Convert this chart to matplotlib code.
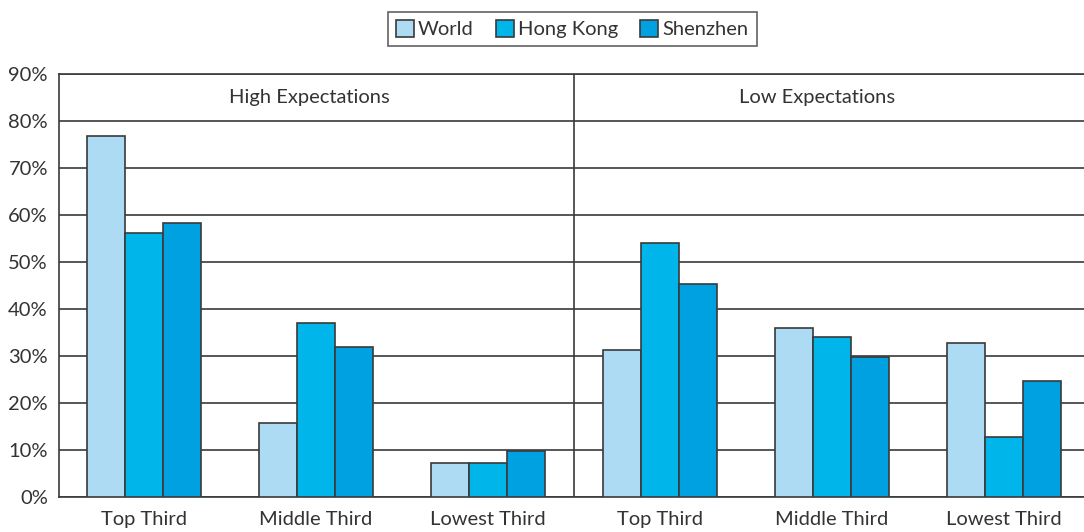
import matplotlib
matplotlib.use("Agg")
import matplotlib.pyplot as plt
import numpy as np
from matplotlib.patches import Patch

categories = ["Top Third", "Middle Third", "Lowest Third", "Top Third", "Middle Third", "Lowest Third"]
panels = ["High Expectations", "Low Expectations"]
series = ["World", "Hong Kong", "Shenzhen"]
world = [76.8, 15.8, 7.3, 31.3, 36.0, 32.8]
hong_kong = [56.1, 37.0, 7.3, 54.0, 34.0, 12.8]
shenzhen = [58.4, 32.0, 9.8, 45.3, 29.8, 24.7]
yticks = [0, 10, 20, 30, 40, 50, 60, 70, 80, 90]

colors = ["#ADDBF4", "#00B5E9", "#00A1E1"]
edge = "#3a3a3a"
txt = "#333333"
fs = 14.5

plt.rcParams['font.family'] = ['Lato', 'DejaVu Sans']

fig = plt.figure(figsize=(10.84, 5.32), dpi=100)
ax = fig.add_axes([59/1084, 1 - 497/532, (1084 - 59)/1084, (497 - 74)/532])

x = np.arange(len(categories))
w = 0.22
for i, (vals, c) in enumerate(zip([world, hong_kong, shenzhen], colors)):
    ax.bar(x + (i - 1) * w, vals, width=w, color=c, edgecolor=edge, linewidth=1.2, zorder=3,
           label=series[i])

ax.set_xlim(-0.495, 5.465)
ax.set_ylim(0, 90)
ax.set_yticks(yticks)
ax.set_yticklabels([f"{v}%" for v in yticks], fontsize=fs, color=txt)
ax.set_xticks(x)
ax.set_xticklabels(categories, fontsize=fs, color=txt)
ax.tick_params(axis='both', length=0)
ax.tick_params(axis='x', pad=10)
ax.tick_params(axis='y', pad=8)
ax.yaxis.grid(True, color="#3a3a3a", linewidth=1.2, zorder=0)
ax.set_axisbelow(True)
ax.spines["right"].set_visible(False)
for s in ["left", "top", "bottom"]:
    ax.spines[s].set_color("#3a3a3a")
    ax.spines[s].set_linewidth(1.2)

ax.axvline(2.5, color="#3a3a3a", linewidth=1.2, zorder=4)
ax.text(0.96, 85, panels[0], ha='center', va='center', fontsize=fs, color=txt)
ax.text(3.91, 85, panels[1], ha='center', va='center', fontsize=fs, color=txt)

handles = [Patch(facecolor=c, edgecolor=edge, linewidth=1.2) for c in colors]
leg = fig.legend(handles, series, loc='center', bbox_to_anchor=(572/1084, 1 - 29/532), ncol=3,
                 frameon=True, fancybox=False, fontsize=fs, handlelength=0.9, handleheight=0.9,
                 handletextpad=0.2, columnspacing=1.1, borderpad=0.4, edgecolor="#3a3a3a")
leg.get_frame().set_linewidth(1.2)
for t in leg.get_texts():
    t.set_color(txt)

fig.savefig("out.png", dpi=100)
